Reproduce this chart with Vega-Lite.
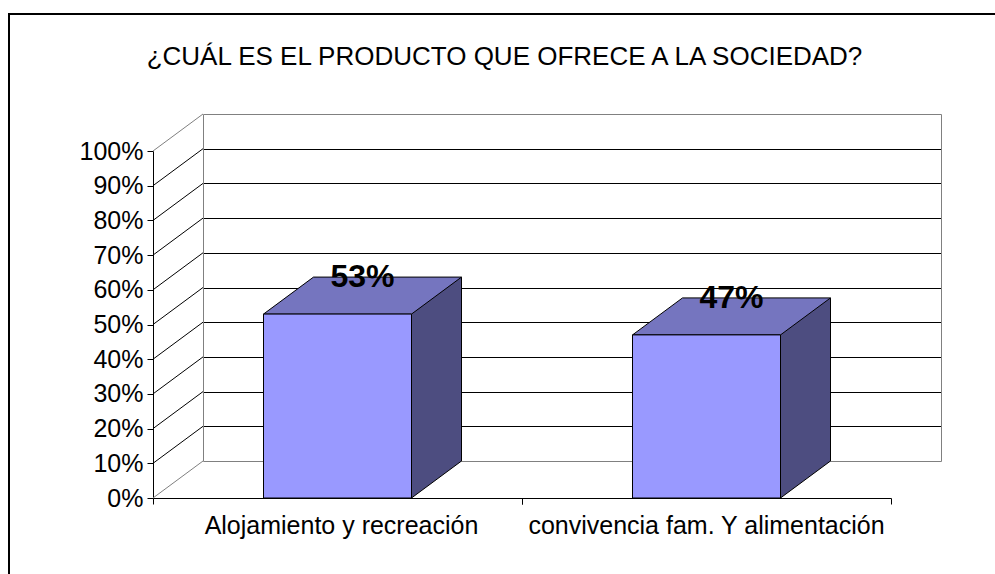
{
  "$schema": "https://vega.github.io/schema/vega-lite/v6.json",
  "width": 991,
  "height": 565,
  "autosize": {"type": "none"},
  "padding": {"left": 9, "top": 14, "right": -5, "bottom": -5},
  "background": "white",
  "config": {
    "view": {"stroke": "black", "strokeWidth": 2},
    "font": "Liberation Sans",
    "axis": {"labelFont": "Liberation Sans", "labelFontSize": 25, "labelColor": "black", "tickColor": "black", "domainColor": "black", "tickWidth": 1, "domainWidth": 1}
  },
  "title": {
    "text": "¿CUÁL ES EL PRODUCTO QUE OFRECE A LA SOCIEDAD?",
    "anchor": "middle",
    "frame": "group",
    "offset": 0,
    "dy": 143,
    "baseline": "top",
    "fontSize": 26,
    "font": "Liberation Sans",
    "fontWeight": "normal",
    "color": "black"
  },
  "datasets": {
    "bars": [
      {"cat": "Alojamiento y recreación", "value": 0.53},
      {"cat": "convivencia fam. Y alimentación", "value": 0.47}
    ],
    "ticks": [
      {"t": 0}, {"t": 0.1}, {"t": 0.2}, {"t": 0.3}, {"t": 0.4}, {"t": 0.5},
      {"t": 0.6}, {"t": 0.7}, {"t": 0.8}, {"t": 0.9}, {"t": 1}
    ]
  },
  "data": {"name": "bars"},
  "resolve": {"axis": {"x": "independent", "y": "independent"}},
  "layer": [
    {
      "data": {"name": "ticks"},
      "mark": {"type": "point", "shape": "M0,0L50,-37", "size": 4, "filled": false, "opacity": 1, "strokeWidth": 1},
      "encoding": {
        "x": {"datum": "Alojamiento y recreación", "bandPosition": 0, "axis": null},
        "y": {"field": "t", "type": "quantitative", "axis": null},
        "stroke": {"condition": {"test": "datum.t == 0 || datum.t == 1", "value": "#808080"}, "value": "black"}
      }
    },
    {
      "mark": {"type": "bar", "width": 50, "xOffset": 99, "yOffset": -37, "y2Offset": -37, "fill": "#4D4D80", "strokeWidth": 0},
      "encoding": {
        "x": {
          "field": "cat", "type": "nominal", "sort": null,
          "scale": {"range": [144, 882], "paddingInner": 0, "paddingOuter": 0},
          "axis": {"orient": "bottom", "offset": -81, "bandPosition": 0, "tickSize": 6, "labelPadding": 9, "labelAngle": 0, "labelLimit": 0, "title": null, "grid": false, "labelOffset": {"condition": {"test": "datum.value == 'Alojamiento y recreación'", "value": 4}, "value": 0}}
        },
        "y": {
          "field": "value", "type": "quantitative",
          "scale": {"domain": [0, 1], "range": [484, 137], "nice": false},
          "axis": {"orient": "left", "offset": -144, "values": [0, 0.1, 0.2, 0.3, 0.4, 0.5, 0.6, 0.7, 0.8, 0.9, 1], "format": ".0%", "tickSize": 6, "labelPadding": 4, "grid": false, "title": null, "labelOverlap": false}
        },
        "y2": {"datum": 0}
      }
    },
    {
      "mark": {"type": "point", "shape": "M74,0L124,-37L74,-37Z", "size": 4, "filled": true, "fill": "#4D4D80", "strokeWidth": 0, "opacity": 1},
      "encoding": {
        "x": {
          "field": "cat", "type": "nominal", "sort": null,
          "axis": {"orient": "bottom", "offset": -81, "bandPosition": 1, "tickSize": 6, "domain": false, "labels": false, "title": null, "grid": false}
        },
        "y": {
          "datum": 0,
          "axis": {"orient": "left", "offset": -144, "translate": 50.5, "position": -87, "values": [0, 0.1, 0.2, 0.3, 0.4, 0.5, 0.6, 0.7, 0.8, 0.9, 1], "grid": false, "ticks": true, "tickSize": -738, "tickWidth": 1, "tickColor": {"condition": {"test": "datum.value == 0 || datum.value == 1", "value": "#808080"}, "value": "black"}, "labels": false, "domain": true, "domainColor": "#808080", "title": null}
        }
      }
    },
    {
      "mark": {"type": "point", "shape": "M74,0L124,-37", "size": 4, "filled": false, "stroke": "black", "strokeWidth": 1, "opacity": 1},
      "encoding": {
        "x": {"field": "cat", "type": "nominal", "sort": null, "axis": null},
        "y": {
          "datum": 0,
          "axis": {"orient": "right", "offset": -109, "translate": 50.5, "position": -87, "grid": false, "ticks": false, "labels": false, "domain": true, "domainColor": "#808080", "title": null}
        }
      }
    },
    {
      "mark": {"type": "rule", "xOffset": 124, "yOffset": -37, "y2Offset": -37, "color": "black", "strokeWidth": 1},
      "encoding": {
        "x": {"field": "cat", "type": "nominal", "sort": null, "axis": null},
        "y": {"field": "value", "type": "quantitative", "axis": null},
        "y2": {"datum": 0}
      }
    },
    {
      "mark": {"type": "point", "shape": "M-74,0L74,0L124,-37L-24,-37Z", "size": 4, "filled": true, "fill": "#7575BF", "stroke": "black", "strokeWidth": 1, "opacity": 1},
      "encoding": {
        "x": {"field": "cat", "type": "nominal", "sort": null, "axis": null},
        "y": {"field": "value", "type": "quantitative", "axis": null}
      }
    },
    {
      "mark": {"type": "bar", "width": 148, "fill": "#9999FF", "stroke": "black", "strokeWidth": 1},
      "encoding": {
        "x": {"field": "cat", "type": "nominal", "sort": null, "axis": null},
        "y": {"field": "value", "type": "quantitative", "axis": null},
        "y2": {"datum": 0}
      }
    },
    {
      "mark": {"type": "text", "dx": 25, "dy": -27, "align": "center", "baseline": "alphabetic", "font": "Liberation Sans", "fontSize": 32, "fontWeight": "bold", "color": "black"},
      "encoding": {
        "x": {"field": "cat", "type": "nominal", "sort": null, "axis": null},
        "y": {"field": "value", "type": "quantitative", "axis": null},
        "text": {"field": "value", "type": "quantitative", "format": ".0%"}
      }
    }
  ]
}
